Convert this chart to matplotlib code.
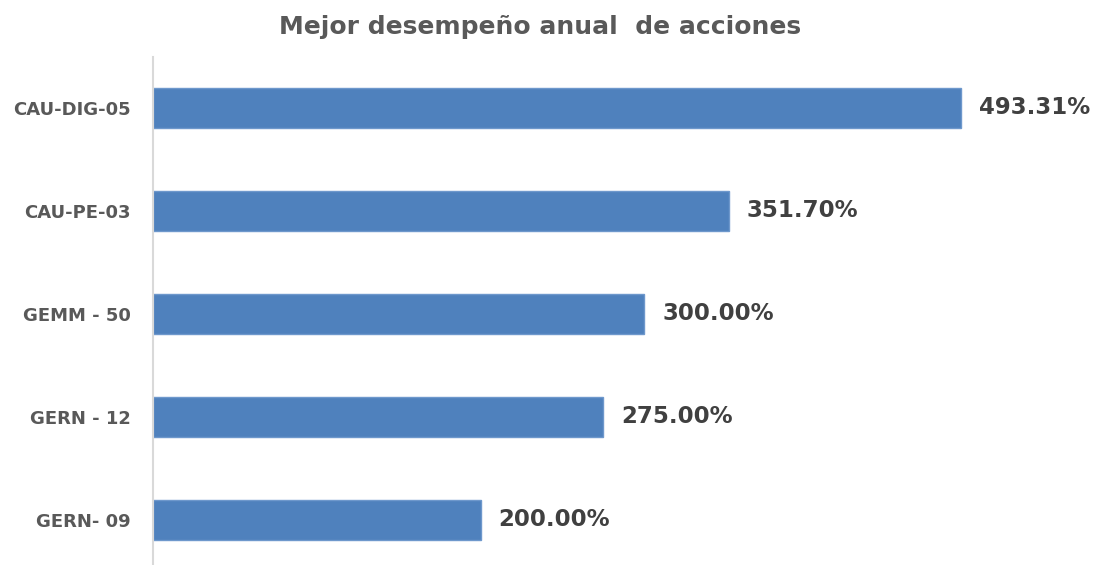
import matplotlib
matplotlib.use('Agg')
import matplotlib.pyplot as plt

plt.rcParams['font.family'] = ['DejaVu Sans']

acciones = ['GERN- 09', 'GERN - 12', 'GEMM - 50', 'CAU-PE-03', 'CAU-DIG-05']
rendimiento = [200.00, 275.00, 300.00, 351.70, 493.31]

fig = plt.figure(figsize=(10.93, 5.65), dpi=100)
ax = fig.add_axes([0.14, -0.0115, 0.86, 0.9115])

ax.barh(acciones, rendimiento, height=0.39, color='#4F81BD', edgecolor='#6E98CC', lw=1)
for i, v in enumerate(rendimiento):
    ax.text(v + 11, i, '%.2f%%' % v, va='center', ha='left', fontsize=16.5,
            fontweight='bold', color='#404040')

ax.set_xlim(0, 574)
ax.set_ylim(-0.5, 4.5)
ax.set_xticks([])
for s in ['top', 'right', 'bottom']:
    ax.spines[s].set_visible(False)
ax.spines['left'].set_color('#D9D9D9')
ax.spines['left'].set_linewidth(1.5)
ax.tick_params(axis='y', length=0, pad=16, labelsize=13, labelcolor='#595959')
for t in ax.get_yticklabels():
    t.set_fontweight('bold')

fig.text(0.494, 0.952, 'Mejor desempeño anual  de acciones', ha='center', va='center',
         fontsize=18, fontweight='bold', color='#595959')

fig.savefig('out.png', dpi=100)
